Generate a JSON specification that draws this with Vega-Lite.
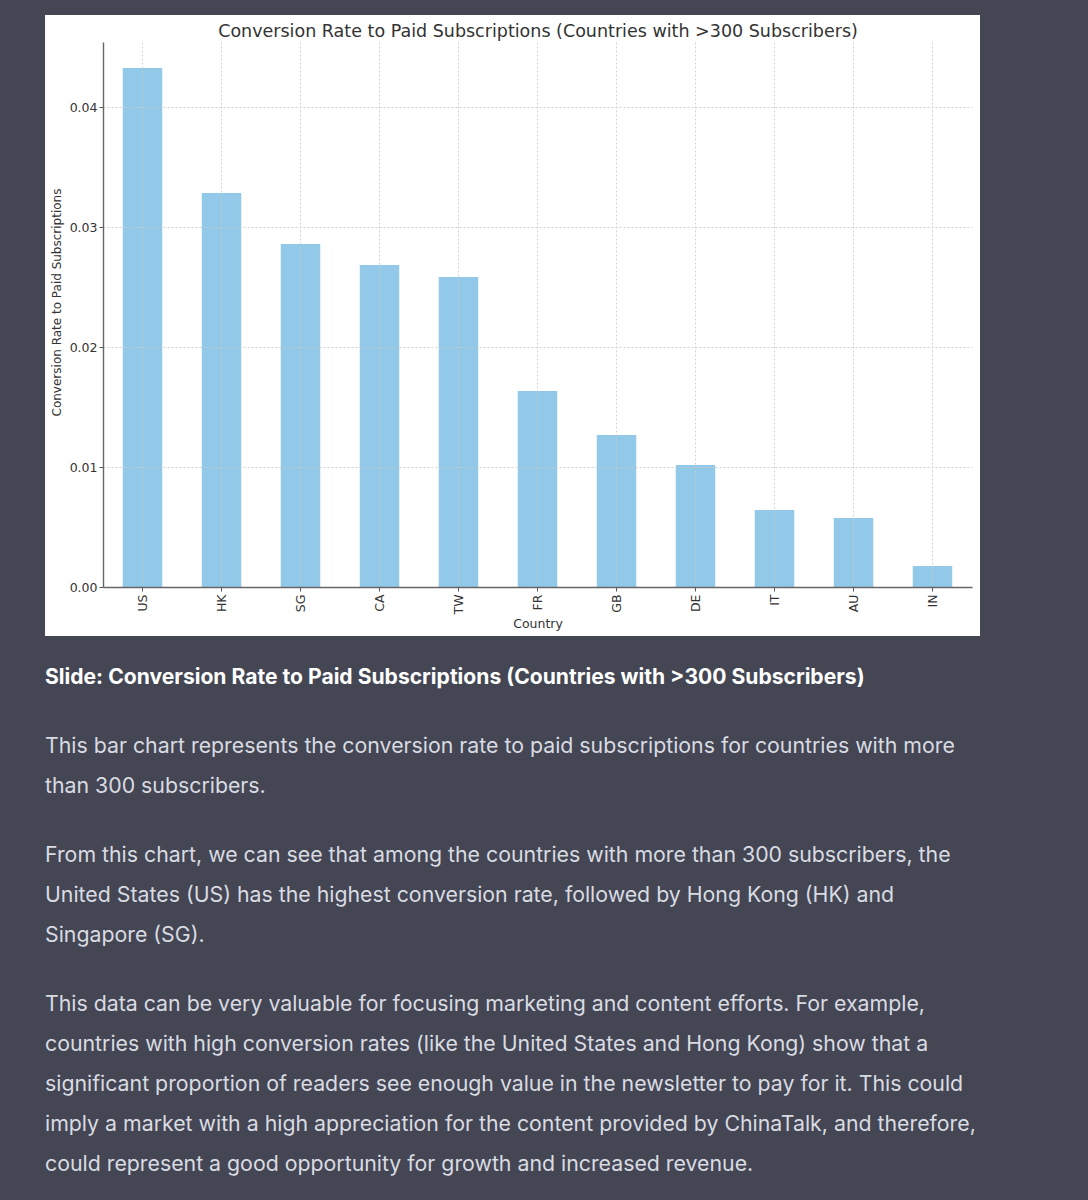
{
  "$schema": "https://vega.github.io/schema/vega-lite/v6.json",
  "background": "#444654",
  "padding": {"left": 45, "top": 15, "right": 108, "bottom": 24},
  "config": {"view": {"stroke": null}, "font": "DejaVu Sans"},
  "spacing": 30,
  "vconcat": [
    {
      "width": 869,
      "height": 545,
      "data": {
        "values": [
          {"country": "US", "rate": 0.04325},
          {"country": "HK", "rate": 0.03283},
          {"country": "SG", "rate": 0.02858},
          {"country": "CA", "rate": 0.02683},
          {"country": "TW", "rate": 0.02583},
          {"country": "FR", "rate": 0.01633},
          {"country": "GB", "rate": 0.01267},
          {"country": "DE", "rate": 0.01017},
          {"country": "IT", "rate": 0.00642},
          {"country": "AU", "rate": 0.00575},
          {"country": "IN", "rate": 0.00175}
        ]
      },
      "layer": [
        {
          "data": {"values": [{"panel": "chart"}]},
          "mark": {"type": "rect", "fill": "#ffffff", "stroke": null},
          "encoding": {
            "x": {
              "datum": -0.0667,
              "type": "quantitative",
              "scale": {"domain": [0, 1], "nice": false, "zero": false},
              "axis": {
                "orient": "top",
                "title": "Conversion Rate to Paid Subscriptions (Countries with >300 Subscribers)",
                "titleFont": "DejaVu Sans",
                "titleFontSize": 17.5,
                "titleFontWeight": "normal",
                "titleColor": "#333333",
                "titlePadding": 2,
                "labels": false,
                "ticks": false,
                "domain": false,
                "grid": false,
                "zindex": 1
              }
            },
            "x2": {"datum": 1.0092},
            "y": {"datum": -0.0899, "type": "quantitative", "scale": {"domain": [0, 1], "nice": false, "zero": false}, "axis": null},
            "y2": {"datum": 1.0495}
          }
        },
        {
          "mark": {"type": "bar", "color": "#93c9e8"},
          "encoding": {
            "x": {
              "field": "country",
              "type": "nominal",
              "sort": null,
              "scale": {"paddingInner": 0.5, "paddingOuter": 0.25},
              "axis": {
                "title": "Country",
                "titleFont": "DejaVu Sans",
                "titleFontSize": 12.5,
                "titleFontWeight": "normal",
                "titleColor": "#333333",
                "titlePadding": 4,
                "labelAngle": 270,
                "labelFont": "DejaVu Sans",
                "labelFontSize": 12.5,
                "labelColor": "#333333",
                "labelPadding": 3,
                "tickSize": 4,
                "tickColor": "#555555",
                "domainColor": "#666666",
                "domainWidth": 1.4,
                "grid": true,
                "gridColor": "#c8c8c8",
                "gridDash": [2, 2],
                "gridWidth": 0.8,
                "bandPosition": 0.5,
                "zindex": 1
              }
            },
            "y": {
              "field": "rate",
              "type": "quantitative",
              "scale": {"domain": [0, 0.04542], "nice": false},
              "axis": {
                "title": "Conversion Rate to Paid Subscriptions",
                "titleFont": "DejaVu Sans",
                "titleFontSize": 12,
                "titleFontWeight": "normal",
                "titleColor": "#333333",
                "titlePadding": 6,
                "titleY": 260,
                "values": [0, 0.01, 0.02, 0.03, 0.04],
                "format": ".2f",
                "labelFont": "DejaVu Sans",
                "labelFontSize": 12.5,
                "labelColor": "#333333",
                "labelPadding": 2,
                "tickSize": 4,
                "tickColor": "#555555",
                "domainColor": "#666666",
                "domainWidth": 1.4,
                "grid": true,
                "gridColor": "#c8c8c8",
                "gridDash": [2, 2],
                "gridWidth": 0.8,
                "zindex": 1
              }
            }
          }
        }
      ],
      "resolve": {"scale": {"x": "independent", "y": "independent"}}
    },
    {
      "width": 1,
      "height": 1,
      "data": {"values": []},
      "mark": "point",
      "title": {
        "text": "Slide: Conversion Rate to Paid Subscriptions (Countries with >300 Subscribers)",
        "anchor": "start",
        "frame": "group",
        "dx": -58,
        "font": "Inter",
        "fontSize": 21.1,
        "fontWeight": "bold",
        "color": "#ffffff",
        "lineHeight": 40,
        "offset": 16
      }
    },
    {
      "width": 1,
      "height": 1,
      "data": {"values": []},
      "mark": "point",
      "title": {
        "text": [
          "This bar chart represents the conversion rate to paid subscriptions for countries with more",
          "than 300 subscribers."
        ],
        "anchor": "start",
        "frame": "group",
        "dx": -58,
        "font": "Inter",
        "fontSize": 21.3,
        "fontWeight": "normal",
        "color": "#d9dbe2",
        "lineHeight": 40,
        "offset": 16
      }
    },
    {
      "width": 1,
      "height": 1,
      "data": {"values": []},
      "mark": "point",
      "title": {
        "text": [
          "From this chart, we can see that among the countries with more than 300 subscribers, the",
          "United States (US) has the highest conversion rate, followed by Hong Kong (HK) and",
          "Singapore (SG)."
        ],
        "anchor": "start",
        "frame": "group",
        "dx": -58,
        "font": "Inter",
        "fontSize": 21.3,
        "fontWeight": "normal",
        "color": "#d9dbe2",
        "lineHeight": 40,
        "offset": 16
      }
    },
    {
      "width": 1,
      "height": 1,
      "data": {"values": []},
      "mark": "point",
      "title": {
        "text": [
          "This data can be very valuable for focusing marketing and content efforts. For example,",
          "countries with high conversion rates (like the United States and Hong Kong) show that a",
          "significant proportion of readers see enough value in the newsletter to pay for it. This could",
          "imply a market with a high appreciation for the content provided by ChinaTalk, and therefore,",
          "could represent a good opportunity for growth and increased revenue."
        ],
        "anchor": "start",
        "frame": "group",
        "dx": -58,
        "font": "Inter",
        "fontSize": 21.3,
        "fontWeight": "normal",
        "color": "#d9dbe2",
        "lineHeight": 40,
        "offset": 0
      }
    }
  ]
}
